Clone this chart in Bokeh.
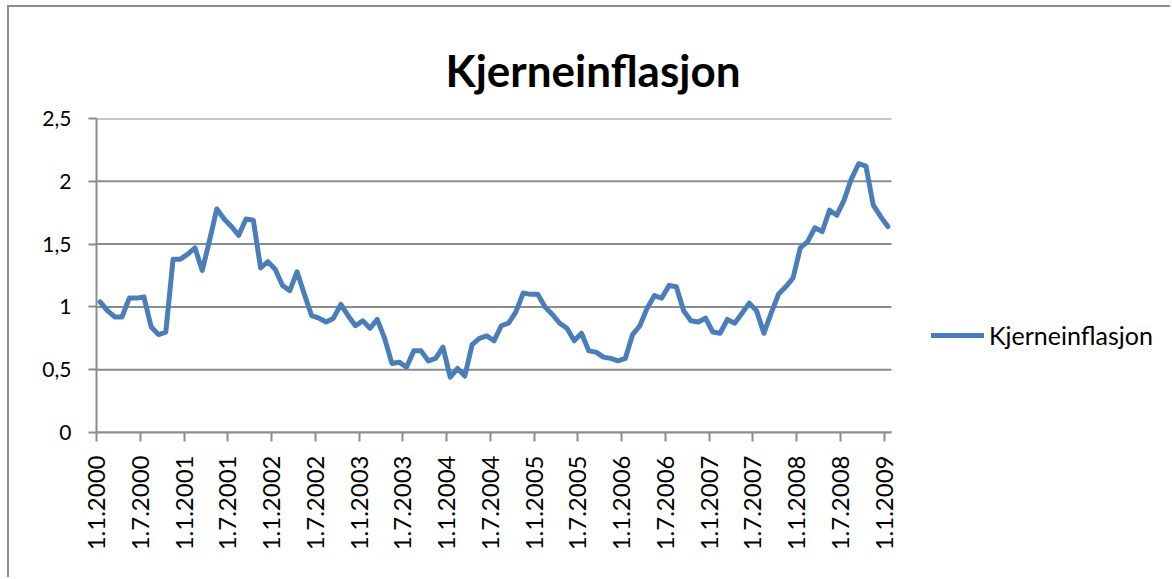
import math
from bokeh.plotting import figure
from bokeh.models import FixedTicker, Legend, LegendItem, Range1d, ColumnDataSource
from bokeh.embed import file_html
from bokeh.resources import INLINE

# ---- data (monthly, 1.1.2000 .. 1.1.2009) ----
series_name = "Kjerneinflasjon"
values = [
    1.04, 0.97, 0.92, 0.92, 1.07, 1.07, 1.08, 0.84, 0.78, 0.80, 1.38, 1.38,
    1.42, 1.47, 1.29, 1.53, 1.78, 1.70, 1.64, 1.57, 1.70, 1.69, 1.31, 1.36,
    1.30, 1.17, 1.13, 1.28, 1.10, 0.93, 0.91, 0.88, 0.91, 1.02, 0.93, 0.85,
    0.89, 0.83, 0.90, 0.75, 0.55, 0.56, 0.52, 0.65, 0.65, 0.57, 0.59, 0.68,
    0.44, 0.51, 0.45, 0.70, 0.75, 0.77, 0.73, 0.85, 0.87, 0.96, 1.11, 1.10,
    1.10, 1.00, 0.94, 0.87, 0.83, 0.73, 0.79, 0.65, 0.64, 0.60, 0.59, 0.57,
    0.59, 0.78, 0.85, 0.99, 1.09, 1.07, 1.17, 1.16, 0.97, 0.89, 0.88, 0.91,
    0.80, 0.79, 0.90, 0.87, 0.95, 1.03, 0.97, 0.79, 0.95, 1.10, 1.16, 1.23,
    1.47, 1.52, 1.63, 1.60, 1.77, 1.73, 1.85, 2.02, 2.14, 2.12, 1.81, 1.72,
    1.64,
]
months = list(range(len(values)))
tick_labels = [
    "1.1.2000", "1.7.2000", "1.1.2001", "1.7.2001", "1.1.2002", "1.7.2002",
    "1.1.2003", "1.7.2003", "1.1.2004", "1.7.2004", "1.1.2005", "1.7.2005",
    "1.1.2006", "1.7.2006", "1.1.2007", "1.7.2007", "1.1.2008", "1.7.2008",
    "1.1.2009",
]
y_ticks = [0, 0.5, 1, 1.5, 2, 2.5]
y_tick_labels = ["0", "0,5", "1", "1,5", "2", "2,5"]

GRAY = "#8c8c8c"
BLUE = "#4A7EBB"
FONT = "Lato"

n = len(values)
x_start, x_end = -0.5, n - 0.5
x_ticks = [x_start + 6 * k for k in range(len(tick_labels))]

W, H = 1163, 572
LEFT, TOP, BOTTOM = 87, 111, 147
plot_px = 795.0                      # pixel width of the data area
frame_px = W - LEFT                  # frame extends to the right edge (legend lives there)
x_view_end = x_start + (x_end - x_start) * frame_px / plot_px

p = figure(
    width=W, height=H,
    output_backend="svg", toolbar_location=None,
    x_range=Range1d(x_start, x_view_end),
    y_range=Range1d(0, 2.5),
    min_border_left=LEFT, min_border_right=0,
    min_border_top=TOP, min_border_bottom=BOTTOM,
)
p.styles = {"border-left": "2px solid #8c8c8c", "border-top": "2px solid #8c8c8c",
            "margin-left": "7px", "margin-top": "5px"}
p.outline_line_color = None
p.background_fill_color = "white"
p.border_fill_color = "white"

# horizontal gridlines limited to the data area
p.xgrid.grid_line_color = None
p.ygrid.grid_line_color = None
p.segment(x0=[x_start] * len(y_ticks), x1=[x_end] * len(y_ticks),
          y0=y_ticks, y1=y_ticks, line_color=GRAY, line_width=2)

src = ColumnDataSource(dict(x=months, y=values))
r = p.line("x", "y", source=src, line_color=BLUE, line_width=5,
           line_join="round", line_cap="round")

# title
p.title.text = series_name
p.title.text_font = FONT
p.title.text_font_style = "bold"
p.title.text_font_size = "44px"
p.title.text_color = "black"
p.title.align = "left"
p.title.offset = 349
p.title.standoff = 46

# x axis
xa = p.xaxis[0]
xa.bounds = (x_start, x_end)
xa.ticker = FixedTicker(ticks=x_ticks)
xa.major_label_overrides = {t: lab for t, lab in zip(x_ticks, tick_labels)}
xa.major_label_orientation = math.pi / 2
xa.major_label_text_font = FONT
xa.major_label_text_font_size = "24px"
xa.major_label_text_color = "black"
xa.major_label_standoff = 14
xa.axis_line_color = GRAY
xa.axis_line_width = 2
xa.major_tick_line_color = GRAY
xa.major_tick_line_width = 2
xa.major_tick_out = 9
xa.major_tick_in = 0
xa.minor_tick_line_color = None

# y axis
ya = p.yaxis[0]
ya.ticker = FixedTicker(ticks=y_ticks)
ya.major_label_overrides = {t: lab for t, lab in zip(y_ticks, y_tick_labels)}
ya.major_label_text_font = FONT
ya.major_label_text_font_size = "21px"
ya.major_label_text_color = "black"
ya.major_label_standoff = 17
ya.axis_line_color = GRAY
ya.axis_line_width = 2
ya.major_tick_line_color = GRAY
ya.major_tick_line_width = 2
ya.major_tick_out = 8
ya.major_tick_in = 0
ya.minor_tick_line_color = None

legend = Legend(
    items=[LegendItem(label=series_name, renderers=[r])],
    location=(835, 82),
    label_text_font=FONT, label_text_font_size="25px", label_text_color="black",
    glyph_width=53, glyph_height=30, label_standoff=5,
    padding=0, margin=0, spacing=0,
    border_line_color=None, background_fill_alpha=0,
)
p.add_layout(legend)

open("out.html", "w").write(file_html(p, INLINE))
